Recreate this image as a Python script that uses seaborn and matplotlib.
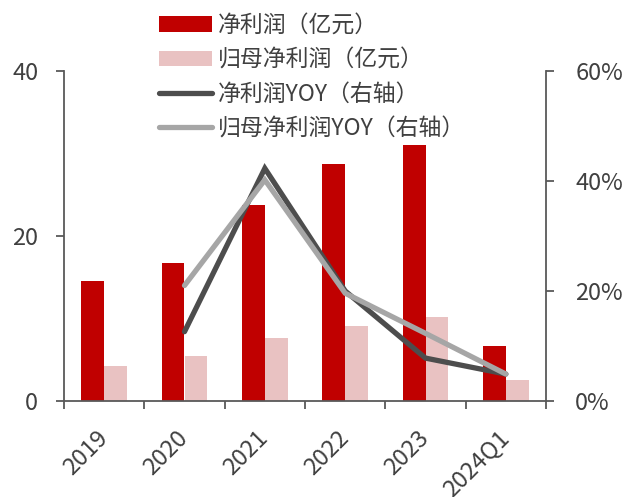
import matplotlib
matplotlib.use("Agg")
import matplotlib.pyplot as plt
import seaborn as sns
import pandas as pd
from matplotlib.ticker import FuncFormatter, FixedLocator
from matplotlib.patches import Patch
from matplotlib.lines import Line2D

categories = ["2019", "2020", "2021", "2022", "2023", "2024Q1"]
net_profit = [14.5, 16.7, 23.8, 28.7, 31.0, 6.7]
parent_net_profit = [4.3, 5.4, 7.6, 9.1, 10.2, 2.6]
yoy_categories = ["2020", "2021", "2022", "2023", "2024Q1"]
net_profit_yoy = [0.126, 0.423, 0.200, 0.078, 0.049]
parent_net_profit_yoy = [0.210, 0.402, 0.196, 0.123, 0.049]

s_net = "净利润（亿元）"
s_parent = "归母净利润（亿元）"
s_net_yoy = "净利润YOY（右轴）"
s_parent_yoy = "归母净利润YOY（右轴）"

sns.set_theme(style="white")
plt.rcParams["font.family"] = ["Noto Sans CJK SC", "DejaVu Sans"]
axis_color = "#595959"
text_color = "#404040"
red = "#c00000"
pink = "#e9c2c2"
dark = "#4d4d4d"
grey = "#a6a6a6"

bars = pd.DataFrame({
    "period": categories * 2,
    "value": net_profit + parent_net_profit,
    "series": [s_net] * len(categories) + [s_parent] * len(categories),
})

fig = plt.figure(figsize=(6.22, 4.97), dpi=100)
ax = fig.add_axes([64 / 622, 96 / 497, (546 - 64) / 622, (401 - 71) / 497])

sns.barplot(data=bars, x="period", y="value", hue="series", order=categories,
            palette=[red, pink], width=0.57, ax=ax,
            saturation=1, legend=False, linewidth=0)

ax2 = ax.twinx()
pos = [categories.index(c) for c in yoy_categories]
sns.lineplot(x=pos, y=net_profit_yoy, color=dark, linewidth=3.8, ax=ax2,
             solid_capstyle="round", solid_joinstyle="miter")
sns.lineplot(x=pos, y=parent_net_profit_yoy, color=grey, linewidth=3.8,
             ax=ax2, solid_capstyle="round", solid_joinstyle="miter")

ax.set_xlim(-0.5, len(categories) - 0.5)
ax.set_ylim(0, 40)
ax.set_yticks([0, 20, 40])
ax2.set_ylim(0, 0.6)
ax2.set_yticks([0, 0.2, 0.4, 0.6])
ax2.yaxis.set_major_formatter(FuncFormatter(lambda v, p: f"{v * 100:.0f}%"))

ax.set_xlabel("")
ax.set_ylabel("")
ax2.set_ylabel("")

for a in (ax, ax2):
    a.spines["top"].set_visible(False)
    for sp in ("left", "right", "bottom"):
        a.spines[sp].set_color(axis_color)
        a.spines[sp].set_linewidth(1.3)
    a.grid(False)
ax.spines["right"].set_visible(False)
ax2.spines["left"].set_visible(False)
ax2.spines["bottom"].set_visible(False)

ax.tick_params(axis="y", left=True, length=6, width=1.3, color=axis_color,
               labelsize=17, labelcolor=text_color, pad=12.5)
ax2.tick_params(axis="y", right=True, length=6, width=1.3, color=axis_color,
                labelsize=17, labelcolor=text_color, pad=15)

# category boundaries carry the tick marks, centres carry the labels
ax.xaxis.set_minor_locator(FixedLocator([i - 0.5 for i in range(len(categories) + 1)]))
ax.tick_params(axis="x", which="minor", bottom=True, length=6, width=1.3, color=axis_color)
ax.tick_params(axis="x", which="major", bottom=True, length=0, labelsize=17,
               labelcolor=text_color, pad=24)
for lbl in ax.get_xticklabels():
    lbl.set_rotation(45)
    lbl.set_ha("right")
    lbl.set_va("center")
    lbl.set_rotation_mode("anchor")

handles = [
    Patch(facecolor=red, edgecolor="none"),
    Patch(facecolor=pink, edgecolor="none"),
    Line2D([0], [0], color=dark, linewidth=3.8, solid_capstyle="round"),
    Line2D([0], [0], color=grey, linewidth=3.8, solid_capstyle="round"),
]
leg = fig.legend(handles, [s_net, s_parent, s_net_yoy, s_parent_yoy],
                 loc="upper left", bbox_to_anchor=(159 / 622, 1 - 14 / 497),
                 frameon=False, fontsize=16.5, handlelength=2.3, handleheight=0.66,
                 handletextpad=0.27, labelspacing=0.5, borderpad=0, borderaxespad=0)
for t in leg.get_texts():
    t.set_color(text_color)

fig.savefig("out.png", dpi=100)
